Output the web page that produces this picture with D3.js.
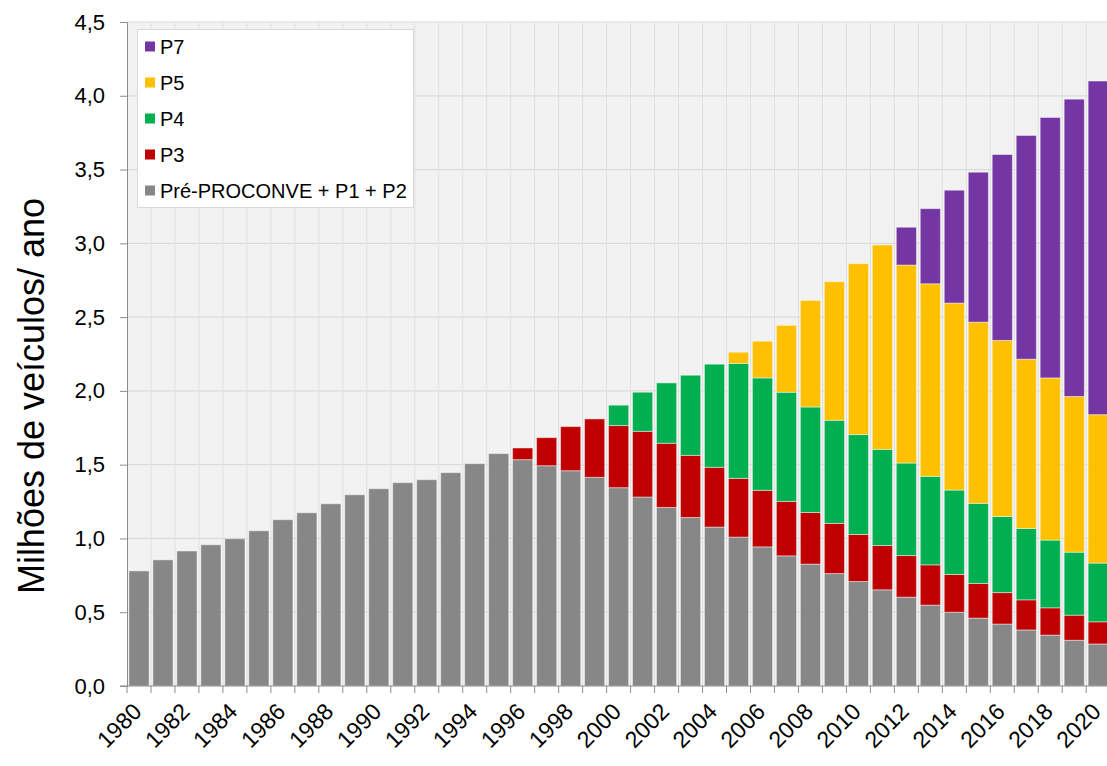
<!DOCTYPE html>
<html>
<head>
<meta charset="utf-8">
<script src="https://cdn.jsdelivr.net/npm/d3@7"></script>
<style>
  body { margin: 0; background: #fff; }
  svg { display: block; font-family: "Liberation Sans", Arial, sans-serif; }
</style>
</head>
<body>
<svg id="chart" width="1107" height="766"></svg>
<script>
const years = [1980, 1981, 1982, 1983, 1984, 1985, 1986, 1987, 1988, 1989,
  1990, 1991, 1992, 1993, 1994, 1995, 1996, 1997, 1998, 1999,
  2000, 2001, 2002, 2003, 2004, 2005, 2006, 2007, 2008, 2009,
  2010, 2011, 2012, 2013, 2014, 2015, 2016, 2017, 2018, 2019, 2020]

// milhoes de veiculos por ano, por fase do PROCONVE
const preP1P2 = [0.78, 0.855, 0.915, 0.957, 0.998, 1.052, 1.127, 1.174, 1.235, 1.296,
  1.337, 1.378, 1.398, 1.446, 1.507, 1.575, 1.534, 1.493, 1.459, 1.414,
  1.344, 1.281, 1.210, 1.142, 1.077, 1.009, 0.943, 0.882, 0.826, 0.762,
  0.708, 0.652, 0.602, 0.548, 0.500, 0.460, 0.420, 0.380, 0.345, 0.310, 0.285]
const p3 = [0, 0, 0, 0, 0, 0, 0, 0, 0, 0,
  0, 0, 0, 0, 0, 0, 0.079, 0.190, 0.299, 0.396,
  0.421, 0.445, 0.435, 0.421, 0.405, 0.398, 0.383, 0.369, 0.350, 0.340,
  0.319, 0.300, 0.282, 0.273, 0.256, 0.235, 0.213, 0.204, 0.185, 0.170, 0.150]
const p4 = [0, 0, 0, 0, 0, 0, 0, 0, 0, 0,
  0, 0, 0, 0, 0, 0, 0, 0, 0, 0,
  0.138, 0.265, 0.409, 0.543, 0.699, 0.779, 0.762, 0.740, 0.715, 0.699,
  0.677, 0.652, 0.627, 0.600, 0.572, 0.543, 0.516, 0.484, 0.459, 0.427, 0.398]
const p5 = [0, 0, 0, 0, 0, 0, 0, 0, 0, 0,
  0, 0, 0, 0, 0, 0, 0, 0, 0, 0,
  0, 0, 0, 0, 0, 0.076, 0.249, 0.453, 0.722, 0.939,
  1.158, 1.385, 1.342, 1.305, 1.267, 1.228, 1.193, 1.147, 1.099, 1.055, 1.006]
const p7 = [0, 0, 0, 0, 0, 0, 0, 0, 0, 0,
  0, 0, 0, 0, 0, 0, 0, 0, 0, 0,
  0, 0, 0, 0, 0, 0, 0, 0, 0, 0,
  0, 0, 0.256, 0.509, 0.765, 1.016, 1.260, 1.516, 1.765, 2.015, 2.261]

const seriesKeys = ['pre', 'p3', 'p4', 'p5', 'p7']
const seriesNames = ['Pré-PROCONVE + P1 + P2', 'P3', 'P4', 'P5', 'P7']
const seriesColors = ['#878787', '#c00000', '#00b050', '#ffc000', '#7436a3']
const yTicks = [0, 0.5, 1, 1.5, 2, 2.5, 3, 3.5, 4, 4.5]
const yTitle = 'Milhões de veículos/ ano'

const rows = years.map((yr, i) => ({
  year: yr, pre: preP1P2[i], p3: p3[i], p4: p4[i], p5: p5[i], p7: p7[i]
}))

const plotLeft = 127, plotTop = 22, plotBottom = 686, plotRight = 1110.2

const svg = d3.select('#chart')

const xBand = d3.scaleBand().domain(years).range([plotLeft, plotRight])
const xBar = xBand.copy().paddingInner(0.16).paddingOuter(0.08)
const y = d3.scaleLinear().domain([0, 4.5]).range([plotBottom, plotTop])

// plot background
svg.append('rect')
  .attr('x', plotLeft).attr('y', plotTop)
  .attr('width', plotRight - plotLeft).attr('height', plotBottom - plotTop)
  .attr('fill', '#f2f2f2')

// gridlines
svg.append('g').selectAll('line')
  .data(yTicks.slice(1))
  .join('line')
  .attr('x1', plotLeft).attr('x2', plotRight)
  .attr('y1', d => y(d)).attr('y2', d => y(d))
  .attr('stroke', '#dadada').attr('stroke-width', 1.2)

svg.append('g').selectAll('line')
  .data(years.slice(1))
  .join('line')
  .attr('x1', d => xBand(d)).attr('x2', d => xBand(d))
  .attr('y1', plotTop).attr('y2', plotBottom)
  .attr('stroke', '#e0e0e0').attr('stroke-width', 1)

// stacked bars
const stacked = d3.stack().keys(seriesKeys)(rows)

svg.append('g').selectAll('g')
  .data(stacked)
  .join('g')
  .attr('fill', (d, i) => seriesColors[i])
  .selectAll('rect')
  .data(d => d.filter(s => s[1] - s[0] > 0))
  .join('rect')
  .attr('x', d => xBar(d.data.year))
  .attr('width', xBar.bandwidth())
  .attr('y', d => y(d[1]))
  .attr('height', d => y(d[0]) - y(d[1]))
  .attr('stroke', '#ffffff')
  .attr('stroke-opacity', 0.45)
  .attr('stroke-width', 1)

// y axis
const yAxis = svg.append('g')
  .attr('transform', `translate(${plotLeft},0)`)
  .call(d3.axisLeft(y)
    .tickValues(yTicks)
    .tickSize(7)
    .tickPadding(15)
    .tickFormat(d => d3.format('.1f')(d).replace('.', ',')))
yAxis.select('.domain').attr('stroke', '#8c8c8c')
yAxis.selectAll('.tick line').attr('stroke', '#8c8c8c')
yAxis.selectAll('.tick text')
  .attr('fill', '#000')
  .style('font-size', '22px')
  .style('font-family', '"Liberation Sans", Arial, sans-serif')

// x axis
svg.append('line')
  .attr('x1', plotLeft - 7).attr('x2', plotRight)
  .attr('y1', plotBottom).attr('y2', plotBottom)
  .attr('stroke', '#8c8c8c')

svg.append('g').selectAll('line')
  .data(years)
  .join('line')
  .attr('x1', d => xBand(d)).attr('x2', d => xBand(d))
  .attr('y1', plotBottom).attr('y2', plotBottom + 7)
  .attr('stroke', '#8c8c8c')

svg.append('g').selectAll('text')
  .data(years.filter(d => d % 2 === 0))
  .join('text')
  .attr('transform', d => `translate(${xBand(d) + xBand.bandwidth() / 2 + 4},${plotBottom + 27}) rotate(-45)`)
  .attr('text-anchor', 'end')
  .style('font-size', '23px')
  .attr('fill', '#000')
  .text(d => d)

// y title
svg.append('text')
  .attr('transform', `translate(44,396) rotate(-90)`)
  .attr('text-anchor', 'middle')
  .style('font-size', '36px')
  .attr('fill', '#000')
  .text(yTitle)

// legend
const legendOrder = [4, 3, 2, 1, 0]
const legend = svg.append('g')
legend.append('rect')
  .attr('x', 137.5).attr('y', 29.5)
  .attr('width', 276).attr('height', 178)
  .attr('fill', '#fff')
  .attr('stroke', '#d9d9d9')

const items = legend.selectAll('g')
  .data(legendOrder)
  .join('g')
  .attr('transform', (d, i) => `translate(145,${46.5 + i * 36})`)
items.append('rect')
  .attr('x', 0).attr('y', -5)
  .attr('width', 10).attr('height', 10)
  .attr('fill', d => seriesColors[d])
items.append('text')
  .attr('x', 15).attr('y', 7)
  .style('font-size', '20px')
  .attr('fill', '#000')
  .text(d => seriesNames[d])
</script>
</body>
</html>
